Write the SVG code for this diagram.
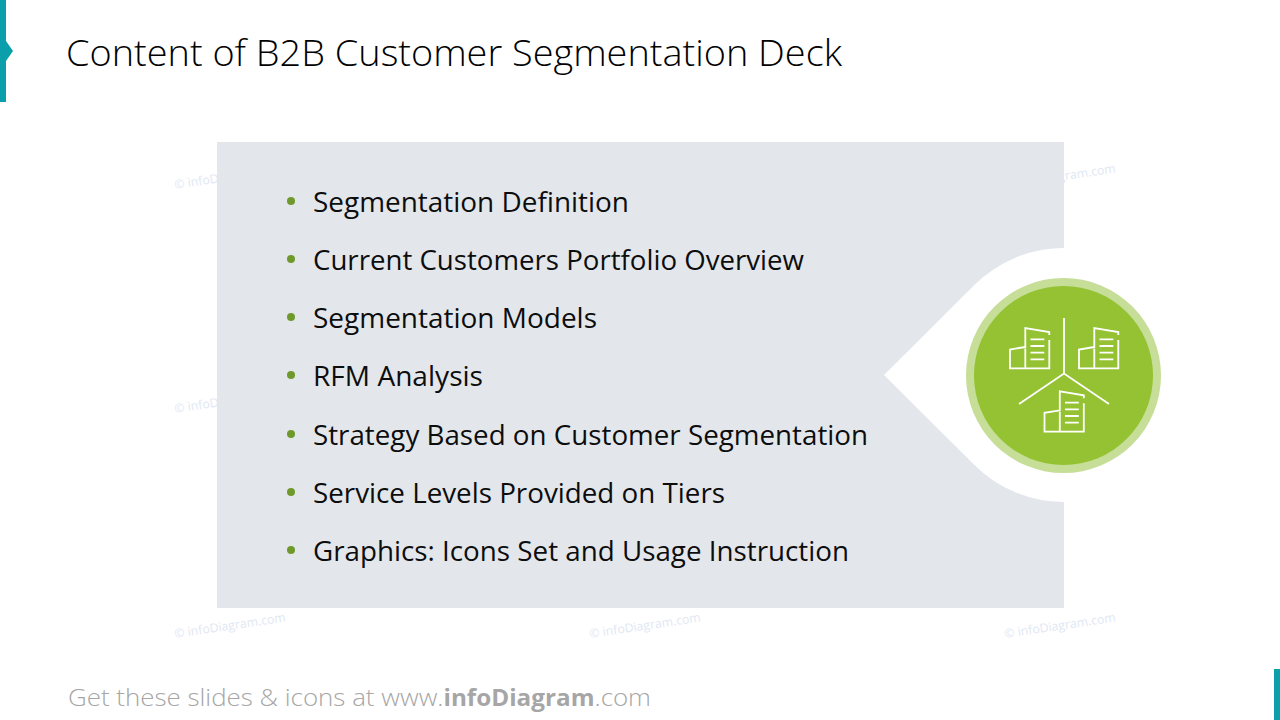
<svg xmlns="http://www.w3.org/2000/svg" width="1280" height="720" viewBox="0 0 1280 720">
<style>
text{font-family:"Open Sans","Liberation Sans",sans-serif}
.wm{font-size:12.3px;fill:#dfe7f3}
.item{font-size:27px;fill:#0d0d0d}
.bul{fill:#6f9a2b}
.ic{fill:none;stroke:#fff;stroke-width:1.8}
</style>
<defs>
<g id="bld" class="ic">
<path d="M1025.3 348.5V368.3H1010V349.5L1025.3 347M1025.3 348V328L1049.3 332V335M1049.3 340V368.3H1025.3"/>
<path d="M1030.5 339.3H1044.3M1030.5 346H1044.3M1030.5 352.7H1044.3M1030.5 359.3H1044.3"/>
</g>
</defs>
<rect width="1280" height="720" fill="#fff"/>
<g id="watermarks" class="wm">
<text x="175" y="189" transform="rotate(-8.5 175 189)">© infoDiagram.com</text>
<text x="175" y="413" transform="rotate(-8.5 175 413)">© infoDiagram.com</text>
<text x="175" y="638" transform="rotate(-8.5 175 638)">© infoDiagram.com</text>
<text x="590" y="638" transform="rotate(-8.5 590 638)">© infoDiagram.com</text>
<text x="1005" y="189" transform="rotate(-8.5 1005 189)">© infoDiagram.com</text>
<text x="1005" y="638" transform="rotate(-8.5 1005 638)">© infoDiagram.com</text>
</g>
<g id="accent-top"><path d="M0 0H6V41L13 51L6 61V102H0Z" fill="#0a9fab"/></g>
<rect id="accent-bottom" x="1274" y="669" width="6" height="51" fill="#0a9fab"/>
<text id="title" x="66" y="65.5" font-size="36" font-weight="300" fill="#000" textLength="776" lengthAdjust="spacingAndGlyphs">Content of B2B Customer Segmentation Deck</text>
<g id="panel">
<path d="M217 142H1064V248A127 127 0 0 0 974.2 285.2L884 375L974.2 464.8A127 127 0 0 0 1064 502V608H217Z" fill="#e3e7ec"/>
</g>
<g id="list">
<circle class="bul" cx="291" cy="201" r="4"/><text class="item" x="313" y="212" textLength="316" lengthAdjust="spacingAndGlyphs">Segmentation Definition</text>
<circle class="bul" cx="291" cy="259" r="4"/><text class="item" x="313" y="270" textLength="491" lengthAdjust="spacingAndGlyphs">Current Customers Portfolio Overview</text>
<circle class="bul" cx="291" cy="317" r="4"/><text class="item" x="313" y="328" textLength="284" lengthAdjust="spacingAndGlyphs">Segmentation Models</text>
<circle class="bul" cx="291" cy="375" r="4"/><text class="item" x="313" y="386" textLength="170" lengthAdjust="spacingAndGlyphs">RFM Analysis</text>
<circle class="bul" cx="291" cy="434" r="4"/><text class="item" x="313" y="445" textLength="555" lengthAdjust="spacingAndGlyphs">Strategy Based on Customer Segmentation</text>
<circle class="bul" cx="291" cy="492" r="4"/><text class="item" x="313" y="503" textLength="412" lengthAdjust="spacingAndGlyphs">Service Levels Provided on Tiers</text>
<circle class="bul" cx="291" cy="550" r="4"/><text class="item" x="313" y="561" textLength="536" lengthAdjust="spacingAndGlyphs">Graphics: Icons Set and Usage Instruction</text>
</g>
<g id="icon-node">
<circle cx="1063.5" cy="375.5" r="97.5" fill="#c6de98"/>
<circle cx="1063.5" cy="375.5" r="89.5" fill="#94c232"/>
<path class="ic" d="M1064 318V373.5M1019 404L1064 373.5L1109 404"/>
<use href="#bld"/>
<use href="#bld" x="69"/>
<use href="#bld" x="34.5" y="63.3"/>
</g>
<text id="footer" x="68" y="706" font-size="24" font-weight="300" fill="#a6a6a6" textLength="583" lengthAdjust="spacingAndGlyphs">Get these slides &amp; icons at www.<tspan font-weight="700" font-size="22.5">infoDiagram</tspan>.com</text>
</svg>
